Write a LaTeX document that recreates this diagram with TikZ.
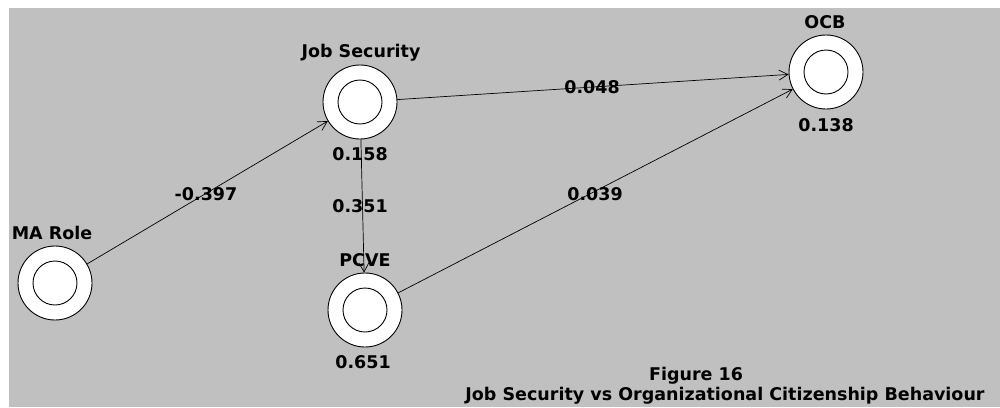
\documentclass[tikz,border=0pt]{standalone}
\usepackage{fontspec}
\setmainfont{DejaVu Sans}
\usetikzlibrary{arrows.meta}
\definecolor{panel}{RGB}{192,192,192}
\tikzset{
  construct/.style={circle, draw=black, fill=white, line width=0.9pt, minimum size=74pt, inner sep=0pt,
    path picture={\draw[black, line width=0.9pt] (path picture bounding box.center) circle (22pt);}},
  txt/.style={font=\fontsize{17.5}{20}\selectfont\bfseries, text=black, inner sep=0pt, anchor=base},
  path/.style={draw=black, line width=0.7pt, -{Straight Barb[length=9pt,width=10pt,line width=0.7pt]}},
}
\begin{document}
\begin{tikzpicture}[x=1pt, y=-1pt]
  % page and grey panel
  \fill[white] (0,0) rectangle (1000,407);
  \fill[panel] (9,8) rectangle (1000,407);
  \useasboundingbox (0,0) rectangle (1000,407);

  % constructs
  \node[construct] (ma)  at (55,283)  {};
  \node[construct] (js)  at (360,102) {};
  \node[construct] (pcve) at (365,310) {};
  \node[construct] (ocb) at (826,72)  {};

  % construct names and R-squared values
  \node[txt] (maname)  at (52,239)  {MA Role};
  \node[txt] (jsname)  at (361,57)  {Job Security};
  \node[txt] (jsr)     at (360,160) {0.158};
  \node[txt] (ocbname) at (825,28)  {OCB};
  \node[txt] (ocbr)    at (826,131) {0.138};
  \node[txt] (pcvename) at (365,266) {PCVE};
  \node[txt] (pcver)   at (363,368) {0.651};

  % paths
  \draw[path] (ma) -- (js);
  \draw[path] (js) -- (ocb);
  \draw[path] (js) -- (pcve);
  \draw[path] (pcve) -- (ocb);

  % path coefficients
  \node[txt] (c1) at (206,200) {-0.397};
  \node[txt] (c2) at (592,93)  {0.048};
  \node[txt] (c3) at (360,212) {0.351};
  \node[txt] (c4) at (595,200) {0.039};

  % caption
  \node[txt] (fig) at (696,380) {Figure 16};
  \node[txt] (title) at (725,400) {Job Security vs Organizational Citizenship Behaviour};
\end{tikzpicture}
\end{document}
